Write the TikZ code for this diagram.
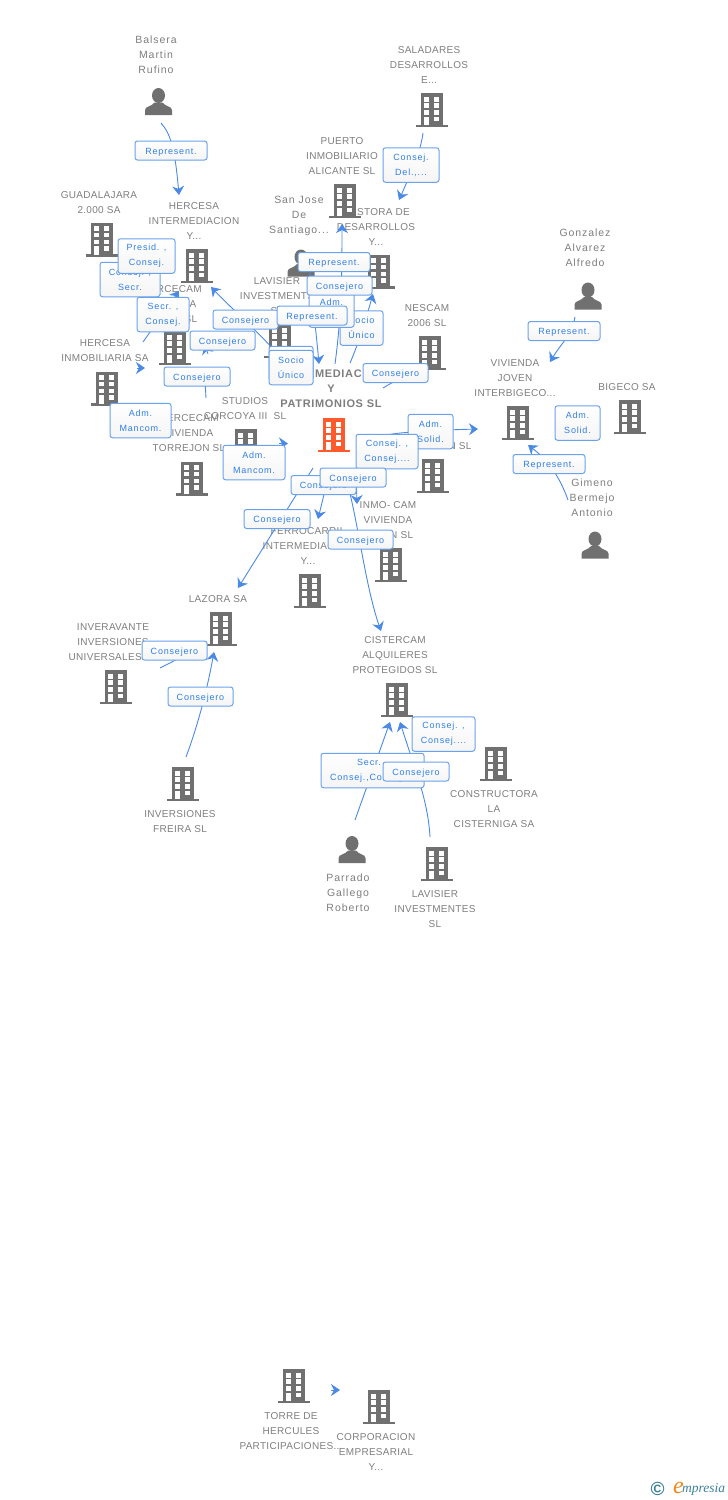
\documentclass[tikz,border=0pt]{standalone}
\usepackage{fontspec}
\usetikzlibrary{arrows.meta}
\setmainfont{Liberation Sans}
\newfontfamily\tagfont[LetterSpace=9]{Liberation Sans}
\newfontfamily\namefont[LetterSpace=3]{Liberation Sans}
\newfontfamily\mainfont[LetterSpace=6]{Liberation Sans}
\newfontfamily\logofont[Ligatures=NoCommon]{Liberation Serif}
\definecolor{icongray}{HTML}{707070}
\definecolor{textgray}{HTML}{7E7E7E}
\definecolor{mainred}{HTML}{FF5A2C}
\definecolor{linkblue}{HTML}{4A8AE4}
\definecolor{tagtext}{HTML}{2F7FE6}
\definecolor{tagedge}{HTML}{6AA2EC}
\definecolor{logoteal}{HTML}{3B7F9C}
\definecolor{logoorange}{HTML}{F08A1D}
\newcommand{\buildingshape}[1]{%
  \begin{scope}[shift={(path picture bounding box.center)},x=1pt,y=-1pt]
    \fill[#1] (-11,-17) rectangle (11,15);
    \fill[#1] (-16,14.5) rectangle (16,17);
    \foreach \wy in {-13.3,-7,0} {
      \fill[white] (-7.7,\wy) rectangle (-2.7,\wy+4.8);
      \fill[white] (1.7,\wy) rectangle (6.7,\wy+4.8);
    }
    \fill[white] (-7.7,6.7) rectangle (-2.7,15);
    \fill[white] (1.7,6.7) rectangle (6.7,11);
  \end{scope}}
\newcommand{\personshape}{%
  \begin{scope}[shift={(path picture bounding box.center)},x=1pt,y=-1pt]
    \fill[icongray] (0,-6) ellipse (6.5 and 7.5);
    \fill[icongray] (-13.5,13.5) -- (-13.5,8.5) .. controls (-13.5,4.5) and (-6,5) .. (-4,1)
      -- (4,1) .. controls (6,5) and (13.5,4.5) .. (13.5,8.5) -- (13.5,13.5) -- cycle;
  \end{scope}}
\tikzset{
  bldg/.style={minimum width=32pt,minimum height=34pt,inner sep=0pt,path picture={\buildingshape{#1}}},
  bldg/.default=icongray,
  person/.style={minimum width=27pt,minimum height=27pt,inner sep=0pt,path picture={\personshape}},
  nameb/.style={align=center,text=textgray,inner sep=0pt,yshift=-1pt,font=\namefont\fontsize{10}{15}\selectfont},
  namep/.style={nameb,font=\tagfont\fontsize{10.5}{15}\selectfont},
  mainname/.style={align=center,text=textgray,inner sep=0pt,yshift=-1pt,font=\mainfont\bfseries\fontsize{11}{15}\selectfont},
  stub/.style={draw=linkblue,line width=0.9pt},
  link/.style={stub,-{Stealth[length=9pt,width=12pt,inset=3pt]}},
  tag/.style={draw=tagedge,line width=1pt,rounded corners=2.5pt,top color=white,bottom color=black!4,
    text=tagtext,inner sep=0pt,align=center,font=\tagfont\fontsize{9}{15}\selectfont},
  tagone/.style={tag,minimum height=19pt,text height=8pt,text depth=1pt},
  tagtwo/.style={tag,minimum height=34.5pt},
}
\begin{document}
\begin{tikzpicture}[x=1pt,y=-1pt]
  \useasboundingbox (0,0) rectangle (728,1500);
  % names
  \node[namep] (balseraname) at (156,54) {Balsera\\Martin\\Rufino};
  \node[nameb] (saladaresname) at (429,64) {SALADARES\\DESARROLLOS\\E...};
  \node[nameb] (puertoname) at (342,155) {PUERTO\\INMOBILIARIO\\ALICANTE SL};
  \node[namep] (sanjosename) at (299,215) {San Jose\\De\\Santiago...};
  \node[nameb] (gestoraname) at (376,226) {GESTORA DE\\DESARROLLOS\\Y...};
  \node[nameb] (guadaname) at (99,201.5) {GUADALAJARA\\2.000 SA};
  \node[nameb] (hintername) at (194,220) {HERCESA\\INTERMEDIACION\\Y...};
  \node[nameb] (hjovenname) at (172,303) {HERCECAM\\VIVIENDA\\JOVEN SL};
  \node[nameb] (lavisiername) at (277,295) {LAVISIER\\INVESTMENTS\\SL};
  \node[nameb] (nescamname) at (427,314.5) {NESCAM\\2006 SL};
  \node[nameb] (hinmoname) at (105,349.5) {HERCESA\\INMOBILIARIA SA};
  \node[nameb] (studiosname) at (245,407.5) {STUDIOS\\CORCOYA III\ \ SL};
  \node[nameb] (torrejonname) at (189,432) {HERCECAM\\VIVIENDA\\TORREJON SL};
  \node[mainname] (mainname) at (331,388) {INTERMEDIACION\\Y\\PATRIMONIOS SL};
  \node[nameb] (inversionname) at (435,445) {INVERSION SL};
  \node[nameb] (inmoname) at (388,519) {INMO- CAM\\VIVIENDA\\JOVEN SL};
  \node[nameb] (ferroname) at (308,545) {FERROCARRIL\\INTERMEDIACION\\Y...};
  \node[nameb] (lazoraname) at (218,598) {LAZORA SA};
  \node[nameb] (inveraname) at (113,641) {INVERAVANTE\\INVERSIONES\\UNIVERSALES SL};
  \node[nameb] (alquilername) at (395,654) {CISTERCAM\\ALQUILERES\\PROTEGIDOS SL};
  \node[nameb] (freiraname) at (180,820.5) {INVERSIONES\\FREIRA SL};
  \node[nameb] (constructname) at (494,808) {CONSTRUCTORA\\LA\\CISTERNIGA SA};
  \node[namep] (parradoname) at (348,892) {Parrado\\Gallego\\Roberto};
  \node[nameb] (lavisierbname) at (435,908) {LAVISIER\\INVESTMENTES\\SL};
  \node[namep] (gonzalezname) at (585,247) {Gonzalez\\Alvarez\\Alfredo};
  \node[nameb] (viviendaname) at (515,377) {VIVIENDA\\JOVEN\\INTERBIGECO...};
  \node[nameb] (bigeconame) at (627,386) {BIGECO SA};
  \node[namep] (gimenoname) at (592,497) {Gimeno\\Bermejo\\Antonio};
  \node[nameb] (torrename) at (291,1430) {TORRE DE\\HERCULES\\PARTICIPACIONES...};
  \node[nameb] (corpname) at (376,1451) {CORPORACION\\EMPRESARIAL\\Y...};
  % icons
  \node[person] (balsera) at (158.5,101.5) {};
  \node[bldg] (saladares) at (432,110) {};
  \node[bldg] (puerto) at (345,201) {};
  \node[person] (sanjose) at (301,263) {};
  \node[bldg] (gestora) at (379,271.5) {};
  \node[bldg] (guada) at (102,239.5) {};
  \node[bldg] (hinter) at (197,266) {};
  \node[bldg] (lavisier) at (280,341) {};
  \node[bldg] (nescam) at (430,353) {};
  \node[bldg] (hjoven) at (175,348) {};
  \node[bldg] (hinmo) at (107,388.5) {};
  \node[bldg] (studios) at (246,446) {};
  \node[bldg] (torrejon) at (192,478.5) {};
  \node[bldg=mainred] (main) at (334,435) {};
  \node[bldg] (inversion) at (433,476) {};
  \node[bldg] (inmo) at (391,565) {};
  \node[bldg] (ferro) at (310,591) {};
  \node[bldg] (lazora) at (221,629) {};
  \node[bldg] (invera) at (116,687) {};
  \node[bldg] (freira) at (183,784) {};
  \node[bldg] (alquiler) at (397,700) {};
  \node[bldg] (construct) at (496,764) {};
  \node[person] (parrado) at (352,849.5) {};
  \node[bldg] (lavisierb) at (437,864) {};
  \node[person] (gonzalez) at (588,296) {};
  \node[bldg] (vivienda) at (518,423) {};
  \node[bldg] (bigeco) at (630,417) {};
  \node[person] (gimeno) at (595,545) {};
  \node[bldg] (torre) at (294,1386) {};
  \node[bldg] (corp) at (379,1407) {};
  % free ends of the connectors
  \coordinate (balseraout) at (161,123);
  \coordinate (hinterin) at (179,195);
  \coordinate (saladaresout) at (423,133);
  \coordinate (gestorain) at (399,200);
  \coordinate (hinmoout) at (143,342);
  \coordinate (hjovenin) at (179,291);
  \coordinate (mainouta) at (280,357);
  \coordinate (hinterinb) at (211,287);
  \coordinate (mainoutb) at (206,398);
  \coordinate (mainoutbend) at (205,380);
  \coordinate (hjovenstub) at (208,354);
  \coordinate (hjoveninb) at (205,345);
  \coordinate (hinmoin) at (145,368);
  \coordinate (hinmoinout) at (137,368);
  \coordinate (studiosout) at (279,443.5);
  \coordinate (mainin) at (288,443.5);
  \coordinate (sanjoseout) at (310,272);
  \coordinate (mainind) at (319,364);
  \coordinate (mainoutc) at (335,364);
  \coordinate (puertoin) at (342,224);
  \coordinate (mainoutd) at (350,363);
  \coordinate (gestorainb) at (373,294);
  \coordinate (mainoute) at (383,388);
  \coordinate (nescamin) at (412,371);
  \coordinate (mainoutf) at (387,435);
  \coordinate (inversionin) at (478,429);
  \coordinate (mainoutg) at (356,470);
  \coordinate (inmoin) at (357,504);
  \coordinate (mainouth) at (328,478);
  \coordinate (ferroin) at (318,519);
  \coordinate (mainouti) at (313,468);
  \coordinate (lazorain) at (238,588);
  \coordinate (mainoutj) at (346,478);
  \coordinate (alquilerin) at (381,631);
  \coordinate (inveraout) at (160,668);
  \coordinate (lazoraina) at (205,645);
  \coordinate (freiraout) at (186,757);
  \coordinate (lazorainb) at (214,652);
  \coordinate (parradoout) at (355,820);
  \coordinate (alquilerina) at (390,722);
  \coordinate (lavisierbout) at (430,837);
  \coordinate (alquilerinb) at (400,722);
  \coordinate (gonzalezout) at (575,317);
  \coordinate (viviendain) at (550,362);
  \coordinate (gimenoout) at (568,500);
  \coordinate (viviendainb) at (528,445);
  \coordinate (torreout) at (331,1390);
  \coordinate (corpin) at (340,1390);
  % connectors
  \draw[link] (balseraout) .. controls (171,134) and (175,150) .. (hinterin);
  \draw[link] (saladaresout) .. controls (420,155) and (410,175) .. (gestorain);
  \draw[link] (hinmoout) -- (hjovenin);
  \draw[link] (mainouta) .. controls (262,335) and (235,312) .. (hinterinb);
  \draw[stub] (mainoutb) -- (mainoutbend);
  \draw[link] (hjovenstub) -- (hjoveninb);
  \draw[link] (hinmoinout) -- (hinmoin);
  \draw[link] (studiosout) -- (mainin);
  \draw[link] (sanjoseout) .. controls (312,300) and (316,330) .. (mainind);
  \draw[link] (mainoutc) .. controls (341,320) and (342,280) .. (puertoin);
  \draw[link] (mainoutd) .. controls (358,345) and (367,315) .. (gestorainb);
  \draw[link] (mainoute) -- (nescamin);
  \draw[link] (mainoutf) .. controls (400,432) and (440,430) .. (inversionin);
  \draw[link] (mainoutg) -- (inmoin);
  \draw[link] (mainouth) -- (ferroin);
  \draw[link] (mainouti) -- (lazorain);
  \draw[link] (mainoutj) .. controls (358,520) and (365,585) .. (alquilerin);
  \draw[link] (inveraout) -- (lazoraina);
  \draw[link] (freiraout) .. controls (198,725) and (207,690) .. (lazorainb);
  \draw[link] (parradoout) -- (alquilerina);
  \draw[link] (lavisierbout) .. controls (428,800) and (415,770) .. (alquilerinb);
  \draw[link] (gonzalezout) .. controls (572,335) and (560,345) .. (viviendain);
  \draw[link] (gimenoout) .. controls (558,472) and (545,458) .. (viviendainb);
  \draw[link] (torreout) -- (corpin);
  % tags
  \node[tagone,minimum width=72pt] (tagbalsera) at (171,150.5) {Represent.};
  \node[tagtwo,minimum width=56pt] (tagsaladares) at (411,165) {Consej.\\Del.,...};
  \node[tagtwo,minimum width=60pt] (tagguada) at (130,279.5) {Consej. ,\\Secr.};
  \node[tagtwo,minimum width=57pt] (tagpresid) at (146.5,256) {Presid. ,\\Consej.};
  \node[tagtwo,minimum width=52pt] (taghinmo) at (163,314.5) {Secr. ,\\Consej.};
  \node[tagone,minimum width=65pt] (tagmaina) at (245.5,319.5) {Consejero};
  \node[tagone,minimum width=65pt] (tagmainb) at (222.5,340.5) {Consejero};
  \node[tagone,minimum width=66pt] (tagmainc) at (197,376.5) {Consejero};
  \node[tagtwo,minimum width=61pt] (taghinmob) at (140.5,420.5) {Adm.\\Mancom.};
  \node[tagtwo,minimum width=62pt] (tagstudios) at (254,462.5) {Adm.\\Mancom.};
  \node[tagtwo,minimum width=44pt] (taglavisierb) at (291,363.5) {};
  \node[tagtwo,minimum width=44pt] (taglavisier) at (291,367.5) {Socio\\Único};
  \node[tagone,minimum width=72pt] (tagsanjose) at (334,262) {Represent.};
  \node[tagtwo,minimum width=43pt] (taggestora) at (361.5,328) {Socio\\Único};
  \node[tagtwo,minimum width=45pt] (tagadm) at (331.5,310) {Adm.\\Solid.};
  \node[tagone,minimum width=65pt] (tagtop) at (339.5,285.5) {Consejero};
  \node[tagone,minimum width=70pt] (tagmid) at (312,315.5) {Represent.};
  \node[tagone,minimum width=65pt] (tagnescam) at (395.5,373) {Consejero};
  \node[tagone,minimum width=72pt] (taggonzalez) at (564,331) {Represent.};
  \node[tagtwo,minimum width=45pt] (tagbigeco) at (577.5,423) {Adm.\\Solid.};
  \node[tagone,minimum width=72pt] (taggimeno) at (549,464) {Represent.};
  \node[tagtwo,minimum width=45pt] (tagsolid) at (430.5,431.5) {Adm.\\Solid.};
  \node[tagtwo,minimum width=62pt] (tagconsej) at (387,451.5) {Consej. ,\\Consej....};
  \node[tagone,minimum width=65pt] (tagferro) at (323.5,485) {Consejero};
  \node[tagone,minimum width=66pt] (taginmo) at (353,477.5) {Consejero};
  \node[tagone,minimum width=66pt] (taglazora) at (277,519) {Consejero};
  \node[tagone,minimum width=65pt] (tagalquiler) at (360.5,539.5) {Consejero};
  \node[tagone,minimum width=65pt] (taginvera) at (174.5,650.5) {Consejero};
  \node[tagone,minimum width=65pt] (tagfreira) at (200.5,696.5) {Consejero};
  \node[tagtwo,minimum width=63pt] (tagconstruct) at (443.5,734) {Consej. ,\\Consej....};
  \node[tagtwo,minimum width=103pt] (tagparrado) at (372.5,770.5) {Secr. ,\\Consej.,Consej....};
  \node[tagone,minimum width=66pt] (taglavisierc) at (416,771.5) {Consejero};
  % logo
  \node[inner sep=0pt,text=logoteal,font=\bfseries\fontsize{19}{19}\selectfont] (logosign) at (657.5,1488.5) {©};
  \node[inner sep=0pt,text=logoteal,font=\logofont\itshape\fontsize{13.5}{14}\selectfont,anchor=base west] (logotext) at (682,1492) {mpresia};
  \node[inner sep=0pt,text=logoorange,font=\logofont\itshape\fontsize{24}{24}\selectfont,anchor=base east] (logoe) at (684,1493) {e};
\end{tikzpicture}
\end{document}
